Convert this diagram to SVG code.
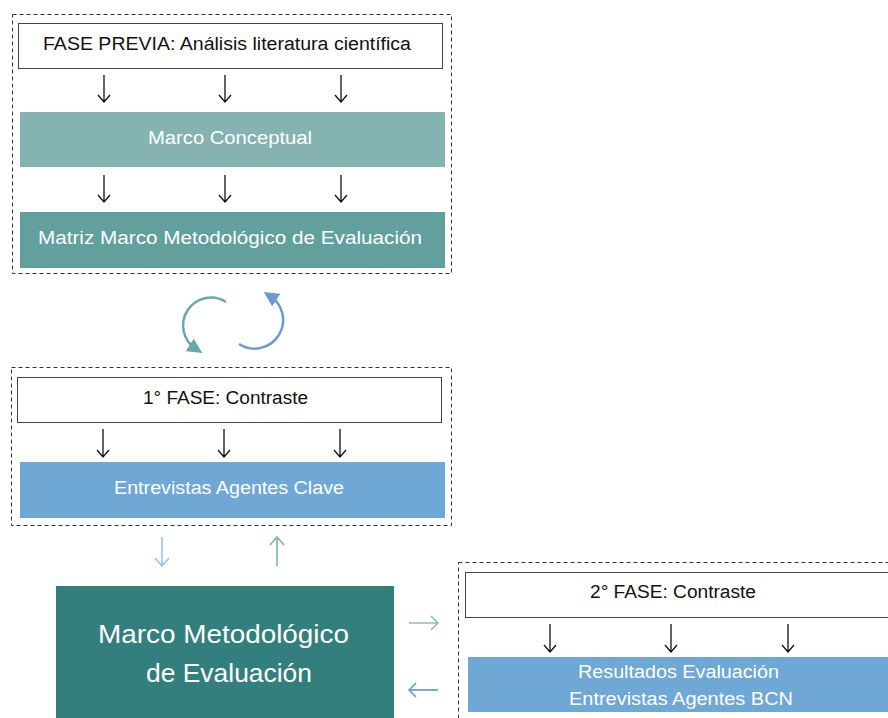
<svg xmlns="http://www.w3.org/2000/svg" width="888" height="718" viewBox="0 0 888 718">
  <defs>
    <style>
      .frame { fill: none; stroke: #333; stroke-width: 1; stroke-dasharray: 4 3; }
      .head { fill: #fff; stroke: #444; stroke-width: 1; }
      text { font-family: "Liberation Sans", Arial, sans-serif; text-anchor: middle; }
      .hdr { font-size: 18px; fill: #111; }
      .lbl { font-size: 18px; fill: #fff; }
      .big { font-size: 26px; fill: #fff; }
      .ar { fill: none; stroke: #111; stroke-width: 1.3; }
    </style>
    <marker id="cycA" viewBox="0 0 10 10" refX="5" refY="5" markerWidth="6" markerHeight="6" orient="auto">
      <path d="M0,0 L10,5 L0,10 z" fill="#6AA9A6"/>
    </marker>
    <marker id="cycB" viewBox="0 0 10 10" refX="5" refY="5" markerWidth="6" markerHeight="6" orient="auto">
      <path d="M0,0 L10,5 L0,10 z" fill="#6F9ACF"/>
    </marker>
  </defs>

  <!-- Fase previa -->
  <g id="fase-previa">
    <rect class="frame" x="12.5" y="14.5" width="439" height="259"/>
    <rect class="head" x="18.5" y="23.5" width="424" height="45"/>
    <text class="hdr" x="227" y="50" textLength="368" lengthAdjust="spacingAndGlyphs">FASE PREVIA: Análisis literatura científica</text>
  </g>
  <g id="marco-conceptual">
    <rect x="20" y="112" width="425" height="55" fill="#84B3B1"/>
    <text class="lbl" x="230" y="144" textLength="164" lengthAdjust="spacingAndGlyphs">Marco Conceptual</text>
  </g>
  <g id="matriz">
    <rect x="20" y="212" width="425" height="56" fill="#62A09D"/>
    <text class="lbl" x="230" y="244" textLength="384" lengthAdjust="spacingAndGlyphs">Matriz Marco Metodológico de Evaluación</text>
  </g>

  <!-- 1a fase -->
  <g id="fase-1">
    <rect class="frame" x="11.5" y="367.5" width="440" height="158"/>
    <rect class="head" x="17.5" y="377.5" width="424" height="45"/>
    <text class="hdr" x="225.5" y="404" textLength="165" lengthAdjust="spacingAndGlyphs">1° FASE: Contraste</text>
  </g>
  <g id="entrevistas">
    <rect x="20" y="462" width="425" height="56" fill="#6FA7D5"/>
    <text class="lbl" x="229" y="494" textLength="230" lengthAdjust="spacingAndGlyphs">Entrevistas Agentes Clave</text>
  </g>

  <!-- Resultado -->
  <g id="marco-metodologico">
    <rect x="56" y="586" width="338" height="140" fill="#337F7D"/>
    <text class="big" x="223.5" y="643" textLength="251" lengthAdjust="spacingAndGlyphs">Marco Metodológico</text>
    <text class="big" x="229" y="682" textLength="166" lengthAdjust="spacingAndGlyphs">de Evaluación</text>
  </g>

  <!-- 2a fase -->
  <g id="fase-2">
    <rect class="frame" x="458.5" y="562.5" width="440" height="170"/>
    <rect class="head" x="465.5" y="572.5" width="430" height="45"/>
    <text class="hdr" x="673" y="598" textLength="166" lengthAdjust="spacingAndGlyphs">2° FASE: Contraste</text>
  </g>
  <g id="resultados">
    <rect x="468" y="657" width="430" height="55" fill="#6FA7D5"/>
    <text class="lbl" x="678.5" y="678" textLength="201" lengthAdjust="spacingAndGlyphs">Resultados Evaluación</text>
    <text class="lbl" x="681" y="705" textLength="224" lengthAdjust="spacingAndGlyphs">Entrevistas Agentes BCN</text>
  </g>

  <g id="connectors">
    <!-- fase previa -> marco conceptual -->
    <path class="ar" d="M104,75 V102 M98,95 L104,102 L110,95"/>
    <path class="ar" d="M225,75 V102 M219,95 L225,102 L231,95"/>
    <path class="ar" d="M341,75 V102 M335,95 L341,102 L347,95"/>
    <!-- marco conceptual -> matriz -->
    <path class="ar" d="M104,175 V202 M98,195 L104,202 L110,195"/>
    <path class="ar" d="M225,175 V202 M219,195 L225,202 L231,195"/>
    <path class="ar" d="M341,175 V202 M335,195 L341,202 L347,195"/>
    <!-- ciclo -->
    <path d="M226,302 A27,27 0 1 0 196,349" fill="none" stroke="#6AA9A6" stroke-width="2.5" marker-end="url(#cycA)"/>
    <path d="M239,344 A27,27 0 1 0 270,296" fill="none" stroke="#6F9ACF" stroke-width="2.5" marker-end="url(#cycB)"/>
    <!-- 1a fase -> entrevistas -->
    <path class="ar" d="M103,429 V457 M97,450 L103,457 L109,450"/>
    <path class="ar" d="M224,429 V457 M218,450 L224,457 L230,450"/>
    <path class="ar" d="M340,429 V457 M334,450 L340,457 L346,450"/>
    <!-- entrevistas <-> marco metodologico -->
    <path d="M162,537 V566 M155,558 L162,566 L169,558" fill="none" stroke="#9CC3E4" stroke-width="1.6"/>
    <path d="M277,566 V537 M270,545 L277,537 L284,545" fill="none" stroke="#7FB3B1" stroke-width="1.6"/>
    <!-- marco metodologico <-> 2a fase -->
    <path d="M409,623 H438 M431,616 L438,623 L431,630" fill="none" stroke="#92BDBB" stroke-width="1.6"/>
    <path d="M438,690 H409 M416,683 L409,690 L416,697" fill="none" stroke="#7AA9D8" stroke-width="1.8"/>
    <!-- 2a fase -> resultados -->
    <path class="ar" d="M550,624 V652 M544,645 L550,652 L556,645"/>
    <path class="ar" d="M671,624 V652 M665,645 L671,652 L677,645"/>
    <path class="ar" d="M788,624 V652 M782,645 L788,652 L794,645"/>
  </g>
</svg>
